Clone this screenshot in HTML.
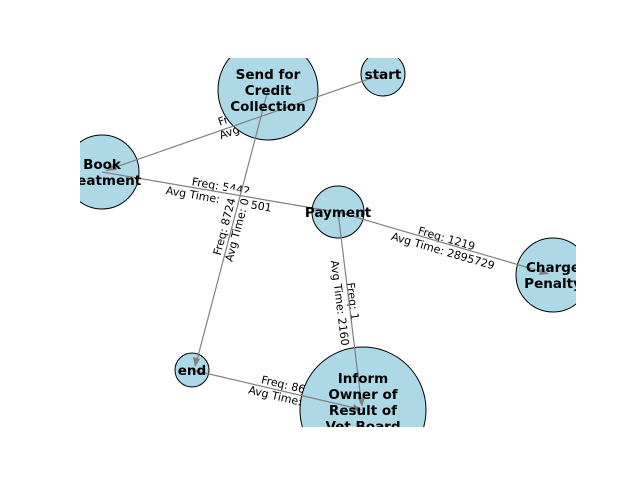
<!DOCTYPE html>
<html><head><meta charset="utf-8"><style>
html,body{margin:0;padding:0;background:#fff;}
svg{display:block;}
.el{font-family:"DejaVu Sans","Liberation Sans",sans-serif;font-size:11px;fill:#000;}
.nl{font-family:"DejaVu Sans","Liberation Sans",sans-serif;font-size:13.5px;font-weight:bold;fill:#000;}
</style></head><body>
<svg width="640" height="480" viewBox="0 0 640 480" xmlns="http://www.w3.org/2000/svg">
<defs><clipPath id="ax"><rect x="80" y="58" width="496" height="369"/></clipPath></defs>
<g clip-path="url(#ax)">
<g text-anchor="middle" class="el">
 <g transform="translate(248,118) rotate(-19.2)"><rect x="-62" y="-13" width="124" height="27" fill="#fff"/><text y="-2">Freq: 8724</text><text y="11">Avg Time: 0</text></g>
 <g transform="translate(220,192) rotate(9.6)"><rect x="-58" y="-13" width="116" height="27" fill="#fff"/><text y="-2">Freq: 5442</text><text y="11">Avg Time: 1036501</text></g>
 <g transform="translate(230,228) rotate(-75)"><rect x="-38" y="-13" width="76" height="27" fill="#fff"/><text y="-2">Freq: 8724</text><text y="11">Avg Time: 0</text></g>
 <g transform="translate(445,244) rotate(16.3)"><rect x="-56" y="-13" width="112" height="27" fill="#fff"/><text y="-2">Freq: 1219</text><text y="11">Avg Time: 2895729</text></g>
 <g transform="translate(347,302) rotate(82.8)"><rect x="-44" y="-13" width="88" height="27" fill="#fff"/><text y="-2">Freq: 1</text><text y="11">Avg Time: 2160</text></g>
 <g transform="translate(282,390) rotate(13.2)"><rect x="-56" y="-13" width="112" height="27" fill="#fff"/><text y="-2">Freq: 86</text><text y="11">Avg Time: 0</text></g>
</g>
<g fill="#add8e6" stroke="#000" stroke-width="1">
 <circle cx="268" cy="90" r="50"/>
 <circle cx="383" cy="74" r="22"/>
 <circle cx="102" cy="172" r="37"/>
 <circle cx="338" cy="212" r="26"/>
 <circle cx="553" cy="275" r="37"/>
 <circle cx="192" cy="370" r="17"/>
 <circle cx="363" cy="410" r="63"/>
</g>
<g stroke="#808080" stroke-width="1.2" fill="none">
 <line x1="383" y1="74" x2="110" y2="169"/>
 <line x1="268" y1="90" x2="197" y2="360"/>
 <line x1="102" y1="172" x2="330" y2="211"/>
 <line x1="338" y1="212" x2="543" y2="272"/>
 <line x1="338" y1="212" x2="361" y2="400"/>
 <line x1="192" y1="370" x2="355" y2="408"/>
</g>
<g fill="#808080">
 <polygon points="105,171 115,163 117,170"/>
 <polygon points="195,367 193,357 200,359"/>
 <polygon points="549,274 539,275 541,268"/>
 <polygon points="362,407 358,398 365,397"/>
 <polygon points="362,410 352,411 354,404"/>
</g>
<g class="nl" text-anchor="middle">
 <text x="268" y="79">Send for</text><text x="268" y="95">Credit</text><text x="268" y="111">Collection</text>
 <text x="383" y="79">start</text>
 <text x="102" y="169">Book</text><text x="102" y="185">Treatment</text>
 <text x="338" y="217">Payment</text>
 <text x="553" y="272">Charge</text><text x="553" y="288">Penalty</text>
 <text x="192" y="375">end</text>
 <text x="363" y="383">Inform</text><text x="363" y="399">Owner of</text><text x="363" y="415">Result of</text><text x="363" y="431">Vet Board</text>
</g>
</g>
</svg>
</body></html>
